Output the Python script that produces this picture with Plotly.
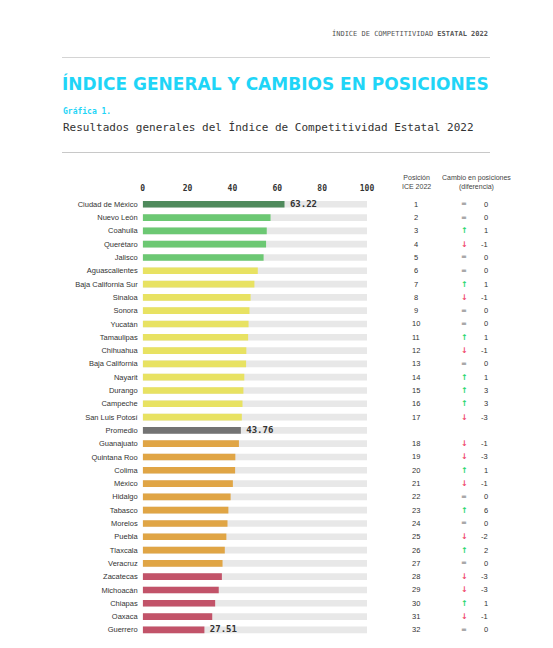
import plotly.graph_objects as go

# Datos de la gráfica (de arriba hacia abajo)
states = [
    "Ciudad de México", "Nuevo León", "Coahuila", "Querétaro", "Jalisco",
    "Aguascalientes", "Baja California Sur", "Sinaloa", "Sonora", "Yucatán",
    "Tamaulipas", "Chihuahua", "Baja California", "Nayarit", "Durango",
    "Campeche", "San Luis Potosí", "Promedio", "Guanajuato", "Quintana Roo",
    "Colima", "México", "Hidalgo", "Tabasco", "Morelos", "Puebla", "Tlaxcala",
    "Veracruz", "Zacatecas", "Michoacán", "Chiapas", "Oaxaca", "Guerrero",
]
scores = [
    63.22, 57.0, 55.3, 55.0, 53.9,
    51.3, 49.8, 48.1, 47.6, 47.2,
    47.0, 46.2, 46.1, 45.3, 44.9,
    44.5, 44.2, 43.76, 42.9, 41.3,
    41.2, 40.2, 39.2, 38.2, 37.8, 37.3, 36.6,
    35.6, 35.3, 33.9, 32.3, 31.0, 27.51,
]
groups = (["lider"] + ["alto"] * 4 + ["medio_alto"] * 12 + ["promedio"]
          + ["medio_bajo"] * 10 + ["bajo"] * 5)
positions = [str(i) for i in range(1, 18)] + [""] + [str(i) for i in range(18, 33)]
changes = [0, 0, 1, -1, 0, 0, 1, -1, 0, 0, 1, -1, 0, 1, 3, 3, -3, None,
           -1, -3, 1, -1, 0, 6, 0, -2, 2, 0, -3, -3, 1, -1, 0]
labeled = ["Ciudad de México", "Promedio", "Guerrero"]
x_ticks = [0, 20, 40, 60, 80, 100]
track_max = 100

group_colors = {
    "lider": "#4f8a5c",
    "alto": "#6cc873",
    "medio_alto": "#e8e262",
    "promedio": "#737373",
    "medio_bajo": "#e0a545",
    "bajo": "#c25369",
}

W, H = 553, 648
OFF = 8  # margen del body de la página
MONO = "DejaVu Sans Mono"
SANS = "Liberation Sans"
CYAN = "#1fd5f7"


def px_x(v):
    return (v - OFF) / W


def px_y(v):
    return 1 - (v - OFF) / H


fig = go.Figure()

# pista gris de fondo
fig.add_trace(go.Bar(
    x=[track_max] * len(states), y=states, orientation="h",
    marker=dict(color="#e8e8e8", line_width=0), width=0.5,
    hoverinfo="skip", showlegend=False,
))
# barras del índice
fig.add_trace(go.Bar(
    x=scores, y=states, orientation="h",
    marker=dict(color=[group_colors[g] for g in groups], line_width=0), width=0.5,
    showlegend=False,
))
# etiquetas de valor
lab_x = [scores[states.index(s)] for s in labeled]
fig.add_trace(go.Scatter(
    x=lab_x, y=labeled, mode="text",
    text=[f" {v:.2f}" for v in lab_x], textposition="middle right",
    textfont=dict(family=MONO, size=9, color="#333333", weight="bold"),
    showlegend=False, hoverinfo="skip",
))

annotations = []
# columnas de la derecha
for st, pos, ch in zip(states, positions, changes):
    if pos:
        annotations.append(dict(x=px_x(416), y=st, xref="paper", yref="y", text=pos,
                                showarrow=False, xanchor="center",
                                font=dict(family=SANS, size=7.5, color="#333333")))
    if ch is None:
        continue
    if ch > 0:
        sym, col, wt, sz = "↑", "#1ed66b", "bold", 8
    elif ch < 0:
        sym, col, wt, sz = "↓", "#f0486a", "bold", 8
    else:
        sym, col, wt, sz = "=", "#666666", "normal", 7
    annotations.append(dict(x=px_x(464), y=st, xref="paper", yref="y", text=sym,
                            showarrow=False, xanchor="center",
                            font=dict(family="DejaVu Sans", size=sz, color=col, weight=wt)))
    annotations.append(dict(x=px_x(490), y=st, xref="paper", yref="y", text=str(ch),
                            showarrow=False, xanchor="right",
                            font=dict(family=SANS, size=7.5, color="#333333")))

# encabezados de columnas
annotations += [
    dict(x=px_x(416), y=px_y(182), xref="paper", yref="paper", showarrow=False,
         text="Posición<br>ICE 2022", xanchor="center", yanchor="middle",
         font=dict(family=SANS, size=7, color="#444444")),
    dict(x=px_x(476), y=px_y(182), xref="paper", yref="paper", showarrow=False,
         text="Cambio en posiciones<br>(diferencia)", xanchor="center", yanchor="middle",
         font=dict(family=SANS, size=7, color="#444444")),
]

# títulos
annotations += [
    dict(x=px_x(490), y=px_y(34), xref="paper", yref="paper", showarrow=False,
         text="ÍNDICE DE COMPETITIVIDAD <b>ESTATAL 2022</b>", xanchor="right",
         yanchor="middle", font=dict(family=MONO, size=7, color="#555555")),
    dict(x=px_x(60), y=px_y(84), xref="paper", yref="paper", showarrow=False,
         text="<b>ÍNDICE GENERAL Y CAMBIOS EN POSICIONES</b>", xanchor="left",
         yanchor="middle", font=dict(family="DejaVu Sans", size=17, color=CYAN)),
    dict(x=px_x(61), y=px_y(111), xref="paper", yref="paper", showarrow=False,
         text="<b>Gráfica 1.</b>", xanchor="left", yanchor="middle",
         font=dict(family=MONO, size=8, color=CYAN)),
    dict(x=px_x(61), y=px_y(128), xref="paper", yref="paper", showarrow=False,
         text="Resultados generales del Índice de Competitividad Estatal 2022",
         xanchor="left", yanchor="middle",
         font=dict(family=MONO, size=11, color="#333333")),
]

shapes = [
    dict(type="line", xref="paper", yref="paper", x0=px_x(62), x1=px_x(490),
         y0=px_y(57.5), y1=px_y(57.5), line=dict(color="#d4d4d4", width=1)),
    dict(type="line", xref="paper", yref="paper", x0=px_x(62), x1=px_x(490),
         y0=px_y(152.5), y1=px_y(152.5), line=dict(color="#c8c8c8", width=1)),
]

fig.update_layout(
    width=W, height=H,
    margin=dict(l=0, r=0, t=0, b=0, pad=0),
    paper_bgcolor="white", plot_bgcolor="white",
    barmode="overlay",
    annotations=annotations,
    shapes=shapes,
    xaxis=dict(
        domain=[px_x(142.7), px_x(367)], range=[0, track_max], side="top",
        tickvals=x_ticks, ticks="", showgrid=False, zeroline=False, showline=False,
        ticklabelstandoff=4, automargin=False,
        tickfont=dict(family=MONO, size=8, color="#333333", weight="bold"),
    ),
    yaxis=dict(
        domain=[px_y(636.5), px_y(197.6)], range=[len(states) - 0.5, -0.5],
        ticks="", showgrid=False, zeroline=False, showline=False,
        ticklabelstandoff=4, automargin=False,
        tickfont=dict(family=SANS, size=7.5, color="#333333"),
    ),
)

fig.write_html("out.html")
